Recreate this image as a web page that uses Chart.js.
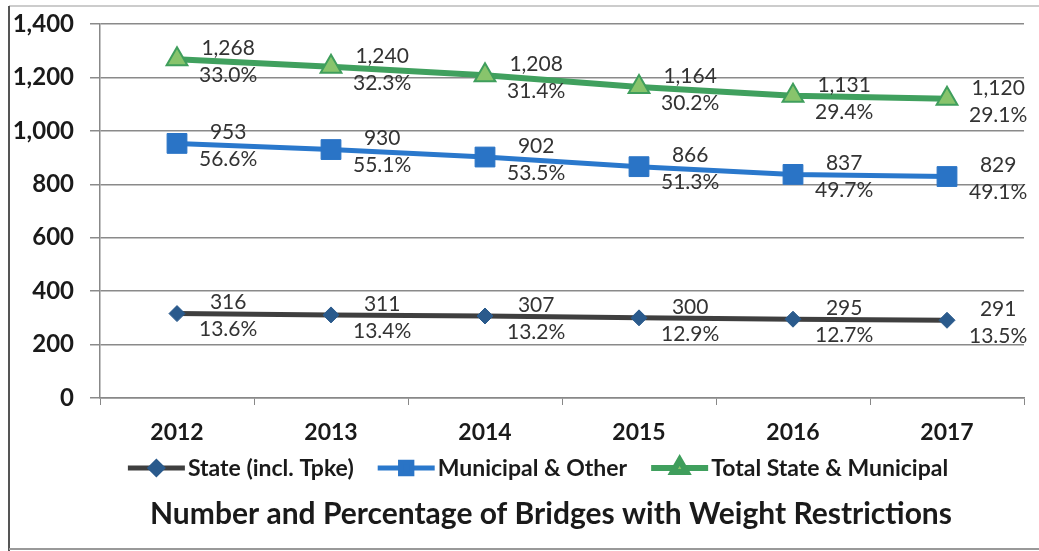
<!DOCTYPE html>
<html lang="en">
<head>
    <meta charset="UTF-8">
    <title>Bridges with Weight Restrictions</title>
    <script src="https://cdn.jsdelivr.net/npm/chart.js"></script>
    <style>
        body { margin: 0; background: #fff; }
        #wrap { width: 1039px; height: 551px; position: relative; }
    </style>
</head>
<body>
    <div id="wrap">
        <canvas id="bridgeChart" width="1039" height="551"></canvas>
    </div>
    <script>
    // Données
    const years = ['2012', '2013', '2014', '2015', '2016', '2017'];
    const stateCounts = [316, 311, 307, 300, 295, 291];
    const statePct = [13.6, 13.4, 13.2, 12.9, 12.7, 13.5];
    const municipalCounts = [953, 930, 902, 866, 837, 829];
    const municipalPct = [56.6, 55.1, 53.5, 51.3, 49.7, 49.1];
    const totalCounts = [1268, 1240, 1208, 1164, 1131, 1120];
    const totalPct = [33.0, 32.3, 31.4, 30.2, 29.4, 29.1];
    const yTicks = [0, 200, 400, 600, 800, 1000, 1200, 1400];

    const FONT = 'Lato, "Open Sans", sans-serif';

    // Étiquettes valeur + pourcentage à droite de chaque point
    const pointLabels = {
        id: 'pointLabels',
        afterDatasetsDraw(chart) {
            const ctx = chart.ctx;
            ctx.save();
            ctx.font = '21px ' + FONT;
            ctx.fillStyle = '#333';
            ctx.textAlign = 'center';
            ctx.textBaseline = 'middle';
            chart.data.datasets.forEach((ds, i) => {
                const meta = chart.getDatasetMeta(i);
                meta.data.forEach((pt, j) => {
                    const top = ds.data[j].toLocaleString('en-US');
                    const bottom = ds.pct[j].toFixed(1) + '%';
                    const w = Math.max(ctx.measureText(top).width, ctx.measureText(bottom).width);
                    const cx = pt.x + 22 + w / 2;
                    ctx.fillText(top, cx, pt.y - 11);
                    ctx.fillText(bottom, cx, pt.y + 16);
                });
            });
            ctx.restore();
        }
    };

    // Légende (trait + marqueur), titre et cadre dessinés en bas
    const bottomParts = {
        id: 'bottomParts',
        afterDraw(chart) {
            const ctx = chart.ctx;
            ctx.save();

            // cadre
            ctx.strokeStyle = '#bbb';
            ctx.lineWidth = 1.5;
            ctx.beginPath();
            ctx.moveTo(1039, 6);
            ctx.lineTo(9, 6);
            ctx.stroke();
            ctx.strokeStyle = '#555';
            ctx.lineWidth = 2;
            ctx.beginPath();
            ctx.moveTo(9, 6);
            ctx.lineTo(9, 551);
            ctx.stroke();
            ctx.strokeStyle = '#999';
            ctx.beginPath();
            ctx.moveTo(9, 549);
            ctx.lineTo(1039, 549);
            ctx.stroke();

            // légende
            ctx.font = 'bold 23px ' + FONT;
            ctx.textBaseline = 'middle';
            ctx.textAlign = 'left';
            const sample = 57, gap = 3, spacing = 24;
            const items = chart.data.datasets.map(ds => ({ ds, w: ctx.measureText(ds.label).width }));
            const total = items.reduce((s, it) => s + sample + gap + it.w, 0) + spacing * (items.length - 1);
            let x = 538 - total / 2;
            const y = 468;
            items.forEach(it => {
                const ds = it.ds;
                ctx.strokeStyle = ds.borderColor;
                ctx.lineWidth = ds.borderWidth;
                ctx.beginPath();
                ctx.moveTo(x, y);
                ctx.lineTo(x + sample, y);
                ctx.stroke();
                ctx.fillStyle = ds.pointBackgroundColor;
                ctx.strokeStyle = ds.pointBorderColor;
                Chart.helpers.drawPoint(ctx, {
                    pointStyle: ds.pointStyle,
                    radius: ds.legendRadius,
                    rotation: 0,
                    borderWidth: 1
                }, x + sample / 2, y);
                ctx.fillStyle = '#1a1a1a';
                ctx.fillText(ds.label, x + sample + gap, y + 1);
                x += sample + gap + it.w + spacing;
            });

            // titre
            ctx.font = 'bold 30px ' + FONT;
            ctx.textAlign = 'center';
            ctx.fillStyle = '#1a1a1a';
            ctx.fillText('Number and Percentage of Bridges with Weight Restrictions', 551, 514);
            ctx.restore();
        }
    };

    document.addEventListener('DOMContentLoaded', function() {
        const ctx = document.getElementById('bridgeChart').getContext('2d');
        new Chart(ctx, {
            type: 'line',
            data: {
                labels: years,
                datasets: [
                    {
                        label: 'State (incl. Tpke)',
                        data: stateCounts,
                        pct: statePct,
                        borderColor: '#3f3f3f',
                        borderWidth: 5,
                        pointStyle: 'rectRot',
                        pointRadius: 8,
                        legendRadius: 6,
                        pointBackgroundColor: '#2a5a8c',
                        pointBorderColor: '#2a5a8c',
                        pointBorderWidth: 1
                    },
                    {
                        label: 'Municipal & Other',
                        data: municipalCounts,
                        pct: municipalPct,
                        borderColor: '#2a78cc',
                        borderWidth: 5,
                        pointStyle: 'rect',
                        pointRadius: 14,
                        legendRadius: 8,
                        pointBackgroundColor: '#2a74c6',
                        pointBorderColor: '#2a74c6',
                        pointBorderWidth: 1
                    },
                    {
                        label: 'Total State & Municipal',
                        data: totalCounts,
                        pct: totalPct,
                        borderColor: '#40a05e',
                        borderWidth: 6,
                        pointStyle: 'triangle',
                        pointRadius: 12,
                        legendRadius: 8,
                        pointBackgroundColor: '#88c46c',
                        pointBorderColor: '#3f9e5c',
                        pointBorderWidth: 2
                    }
                ]
            },
            options: {
                responsive: false,
                animation: false,
                layout: { padding: { top: 24, right: 11, bottom: 103, left: 0 } },
                plugins: {
                    legend: { display: false },
                    title: { display: false },
                    tooltip: { enabled: false }
                },
                scales: {
                    x: {
                        offset: true,
                        grid: { offset: true, drawOnChartArea: false, color: '#888', tickLength: 7 },
                        border: { color: '#888', width: 1.5 },
                        ticks: { color: '#1a1a1a', font: { family: FONT, size: 23, weight: 'bold' }, padding: 14 },
                        afterFit: scale => { scale.height = 50; }
                    },
                    y: {
                        min: 0,
                        max: 1400,
                        afterBuildTicks: scale => { scale.ticks = yTicks.map(v => ({ value: v })); },
                        grid: { color: '#8a8a8a', lineWidth: 1.5, tickLength: 10 },
                        border: { color: '#888', width: 1.5 },
                        ticks: {
                            color: '#1a1a1a',
                            font: { family: FONT, size: 24, weight: 'bold' },
                            padding: 16,
                            callback: v => v.toLocaleString('en-US')
                        },
                        afterFit: scale => {
                            scale.width = 100;
                            scale.paddingTop = 0;
                            scale.paddingBottom = 0;
                        }
                    }
                }
            },
            plugins: [pointLabels, bottomParts]
        });
    });
    </script>
</body>
</html>
